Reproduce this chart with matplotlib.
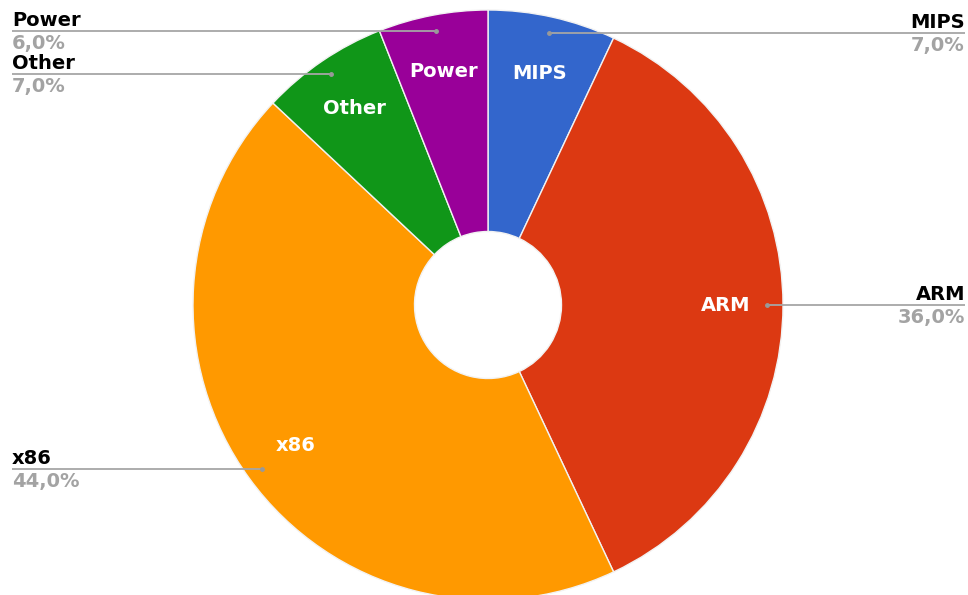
import numpy as np
import matplotlib
matplotlib.use("Agg")
from matplotlib import pyplot as plt

labels = ["MIPS", "ARM", "x86", "Other", "Power"]
shares = [7.0, 36.0, 44.0, 7.0, 6.0]
colors = ["#3366cc", "#dc3912", "#ff9900", "#109618", "#990099"]

W, H = 968, 595
fig = plt.figure(figsize=(W / 100, H / 100), dpi=100)
ax = fig.add_axes([0, 0, 1, 1])

cx, cy = 488, H - 305
r_out, r_in = 295, 73.5

wedges, _ = ax.pie(shares, colors=colors, startangle=90, counterclock=False,
                   radius=r_out, center=(cx, cy), frame=True,
                   wedgeprops=dict(width=r_out - r_in, edgecolor="#f2f2f2", linewidth=1))
ax.set_xlim(0, W)
ax.set_ylim(0, H)
ax.set_aspect("equal")
ax.axis("off")

fs = 14
for w, name, val in zip(wedges, labels, shares):
    mid = np.deg2rad((w.theta1 + w.theta2) / 2)
    # label inside slice
    ix = cx + 238 * np.cos(mid)
    iy = cy + 238 * np.sin(mid)
    ax.text(ix, iy - 6, name, color="white", fontsize=fs, fontweight="bold",
            ha="center", va="baseline")
    # leader line and outside label
    dx = cx + 279 * np.cos(mid)
    dy = cy + 279 * np.sin(mid)
    right = np.cos(mid) > 0
    ex = 965 if right else 12
    ax.plot([dx, ex], [dy, dy], color="#a6a6a6", lw=1.3, solid_capstyle="butt")
    ax.plot([dx], [dy], "o", color="#999999", ms=2.5)
    ha = "right" if right else "left"
    ax.text(ex, dy + 5, name, color="black", fontsize=fs, fontweight="bold",
            ha=ha, va="baseline")
    pct = f"{val:.1f}".replace(".", ",") + "%"
    ax.text(ex, dy - 18, pct, color="#a3a3a3", fontsize=fs, fontweight="bold",
            ha=ha, va="baseline")

fig.savefig("out.png", dpi=100)
